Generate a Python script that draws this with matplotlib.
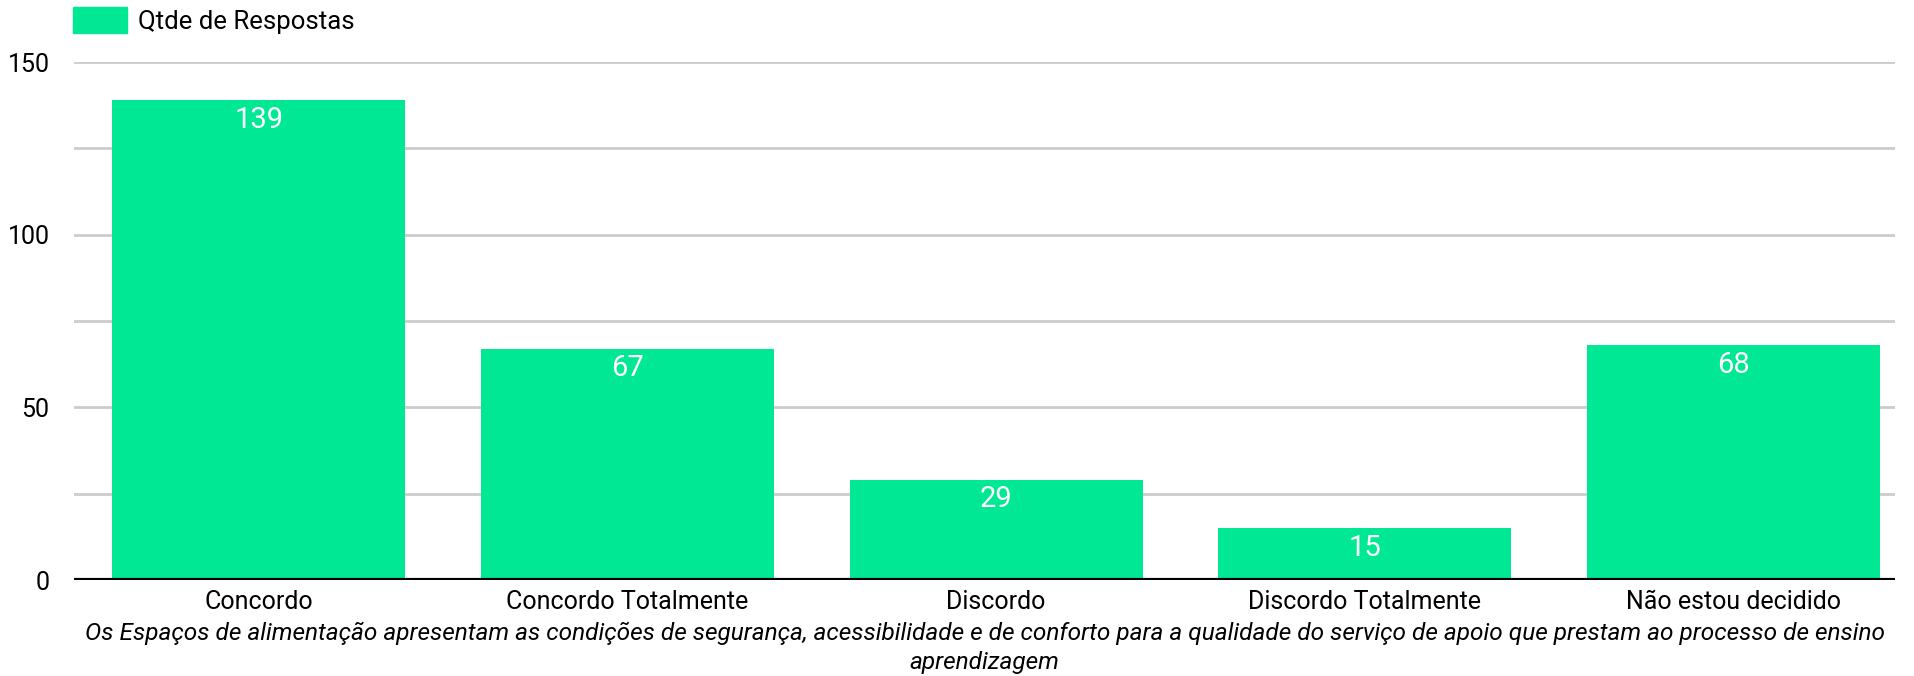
import matplotlib.pyplot as plt
from matplotlib.patches import Patch

plt.rcParams['font.family'] = ['Roboto', 'DejaVu Sans']

categorias = ['Concordo', 'Concordo Totalmente', 'Discordo', 'Discordo Totalmente', 'Não estou decidido']
respostas = [139, 67, 29, 15, 68]
legenda = 'Qtde de Respostas'
titulo_x = ('Os Espaços de alimentação apresentam as condições de segurança, acessibilidade e de conforto '
            'para a qualidade do serviço de apoio que prestam ao processo de ensino\naprendizagem')
cor = '#00e893'

fig = plt.figure(figsize=(19.14, 6.76), dpi=100)
ax = fig.add_axes([0.0389, 0.142, 0.951, 0.766])

x = range(len(categorias))
ax.bar(x, respostas, width=0.795, color=cor, zorder=2)

# rotulos dentro da barra
for i, v in zip(x, respostas):
    ax.annotate(str(v), (i, v), xytext=(0, -14), textcoords='offset points',
                ha='center', va='center', color='white', fontsize=21)

ax.set_xlim(-0.5, 4.437)
ax.set_ylim(0, 150)
ax.set_yticks([0, 50, 100, 150])
ax.set_yticks([25, 75, 125], minor=True)
ax.grid(axis='y', which='both', color='#cccccc', linewidth=2, zorder=0)
ax.axhline(0, color='black', linewidth=3, zorder=3)

ax.set_xticks(list(x))
ax.set_xticklabels(categorias, fontsize=18)
ax.tick_params(axis='y', labelsize=18, length=0, pad=18)
ax.tick_params(axis='x', length=0, pad=7)
ax.tick_params(axis='y', which='minor', length=0)
for s in ax.spines.values():
    s.set_visible(False)

ax.set_xlabel(titulo_x, fontsize=17.6, style='italic', labelpad=6, linespacing=1.33)

fig.legend(handles=[Patch(color=cor, label=legenda)], loc='upper left',
           bbox_to_anchor=(0.026, 1.024), frameon=False, fontsize=18.5,
           handlelength=2.1, handleheight=1.2, handletextpad=0.45)

fig.savefig('out.png', dpi=100)
